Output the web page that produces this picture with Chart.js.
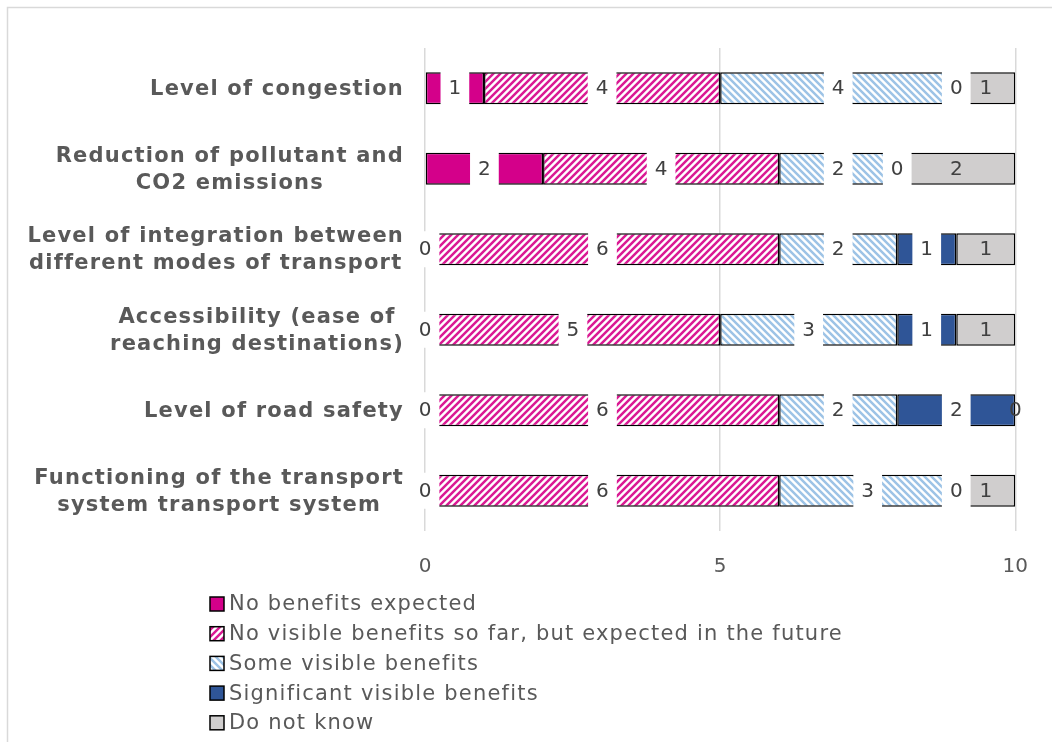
<!DOCTYPE html>
<html>
<head>
<meta charset="utf-8">
<script src="https://cdn.jsdelivr.net/npm/chart.js@4"></script>
<style>
  html, body { margin: 0; padding: 0; background: #fff; }
  #wrap { position: relative; width: 1052px; height: 742px; }
</style>
</head>
<body>
<div id="wrap"><canvas id="c" width="1052" height="742"></canvas></div>
<script>
const categories = [
  ["Level of congestion"],
  ["Reduction of pollutant and", "CO2 emissions"],
  ["Level of integration between", "different modes of transport"],
  ["Accessibility (ease of", "reaching destinations)"],
  ["Level of road safety"],
  ["Functioning of the transport", "system transport system"]
];
const seriesNames = [
  "No benefits expected",
  "No visible benefits so far, but expected in the future",
  "Some visible benefits",
  "Significant visible benefits",
  "Do not know"
];
const noBenefitsExpected = [1, 2, 0, 0, 0, 0];
const noVisibleYetExpected = [4, 4, 6, 5, 6, 6];
const someVisibleBenefits = [4, 2, 2, 3, 2, 3];
const significantBenefits = [0, 0, 1, 1, 2, 0];
const doNotKnow = [1, 2, 1, 1, 0, 1];
const xTickValues = [0, 5, 10];

const MAGENTA = '#D4008A';
const HATCHPINK = '#DA1A94';
const LIGHTBLUE = '#9DC3E6';
const DARKBLUE = '#2F5597';
const GREY = '#D0CECE';

function hatch(color, dir) {
  const s = 7;
  const cv = document.createElement('canvas');
  cv.width = s; cv.height = s;
  const g = cv.getContext('2d');
  g.fillStyle = '#fff';
  g.fillRect(0, 0, s, s);
  g.strokeStyle = color;
  g.lineWidth = 2.5;
  g.beginPath();
  if (dir === '/') {
    g.moveTo(-1, 1); g.lineTo(1, -1);
    g.moveTo(0, s); g.lineTo(s, 0);
    g.moveTo(s - 1, s + 1); g.lineTo(s + 1, s - 1);
  } else {
    g.moveTo(-1, s - 1); g.lineTo(1, s + 1);
    g.moveTo(0, 0); g.lineTo(s, s);
    g.moveTo(s - 1, -1); g.lineTo(s + 1, 1);
  }
  g.stroke();
  return g.createPattern(cv, 'repeat');
}

const fills = [MAGENTA, hatch(HATCHPINK, '/'), hatch(LIGHTBLUE, '\\'), DARKBLUE, GREY];
const values = [noBenefitsExpected, noVisibleYetExpected, someVisibleBenefits, significantBenefits, doNotKnow];
const boxedLabels = [true, true, true, true, false];

const FONT = '"DejaVu Sans", Verdana, sans-serif';

const datasets = seriesNames.map((name, i) => ({
  label: name,
  data: values[i],
  backgroundColor: fills[i],
  borderColor: '#000',
  borderWidth: 1.5,
  borderSkipped: false,
  barPercentage: 0.4,
  categoryPercentage: 1.0
}));

const framePlugin = {
  id: 'frame',
  beforeDraw(chart) {
    const c = chart.ctx;
    c.save();
    c.fillStyle = '#fff';
    c.fillRect(0, 0, chart.width, chart.height);
    c.strokeStyle = '#D9D9D9';
    c.lineWidth = 1.5;
    c.beginPath();
    c.moveTo(7.5, chart.height + 5);
    c.lineTo(7.5, 7.5);
    c.lineTo(chart.width + 5, 7.5);
    c.stroke();
    c.restore();
  }
};

const labelPlugin = {
  id: 'segLabels',
  afterDatasetsDraw(chart) {
    const c = chart.ctx;
    c.save();
    c.font = '20px ' + FONT;
    c.textAlign = 'center';
    c.textBaseline = 'middle';
    chart.data.datasets.forEach((ds, di) => {
      const meta = chart.getDatasetMeta(di);
      meta.data.forEach((el, i) => {
        const v = ds.data[i];
        const cx = (el.x + el.base) / 2;
        const cy = el.y;
        const txt = String(v);
        const w = c.measureText(txt).width;
        if (boxedLabels[di]) {
          c.fillStyle = '#fff';
          c.fillRect(cx - w / 2 - 8, cy - 18, w + 16, 36);
        }
        c.fillStyle = '#404040';
        c.fillText(txt, cx, cy + 1);
      });
    });
    c.restore();
  }
};

const catLabelPlugin = {
  id: 'catLabels',
  afterDraw(chart) {
    const c = chart.ctx;
    const yScale = chart.scales.y;
    c.save();
    c.font = 'bold 21px ' + FONT;
    c.letterSpacing = '1.2px';
    c.fillStyle = '#595959';
    c.textAlign = 'center';
    c.textBaseline = 'middle';
    const rightEdge = chart.chartArea.left - 21;
    categories.forEach((lines, i) => {
      const y = yScale.getPixelForValue(i);
      const maxW = Math.max(...lines.map(l => c.measureText(l).width));
      const cx = rightEdge - maxW / 2;
      lines.forEach((l, k) => {
        c.fillText(l, cx, y + 1 + (k - (lines.length - 1) / 2) * 27);
      });
    });
    c.restore();
  }
};

const legendPlugin = {
  id: 'vLegend',
  afterDraw(chart) {
    const c = chart.ctx;
    c.save();
    c.font = '21px ' + FONT;
    c.letterSpacing = '1.2px';
    c.textBaseline = 'middle';
    c.textAlign = 'left';
    const x0 = 210, y0 = 604, step = 29.7;
    chart.data.datasets.forEach((ds, i) => {
      const y = y0 + i * step;
      c.fillStyle = ds.backgroundColor;
      c.fillRect(x0, y - 7, 14, 14);
      c.strokeStyle = '#000';
      c.lineWidth = 1.5;
      c.strokeRect(x0, y - 7, 14, 14);
      c.fillStyle = '#595959';
      c.fillText(ds.label, x0 + 19, y + 1);
    });
    c.restore();
  }
};

new Chart(document.getElementById('c'), {
  type: 'bar',
  data: { labels: categories, datasets },
  options: {
    indexAxis: 'y',
    responsive: false,
    animation: false,
    layout: { padding: { left: 0, right: 36, top: 48, bottom: 161 } },
    plugins: {
      legend: { display: false },
      tooltip: { enabled: false },
      title: { display: false }
    },
    scales: {
      x: {
        stacked: true,
        min: 0,
        max: 10,
        afterBuildTicks(scale) { scale.ticks = xTickValues.map(v => ({ value: v })); },
        afterFit(scale) { scale.height = 50; },
        ticks: {
          padding: 24,
          color: '#595959',
          font: { family: FONT, size: 20 }
        },
        grid: { color: '#D9D9D9', lineWidth: 1.5, drawTicks: false },
        border: { display: false }
      },
      y: {
        stacked: true,
        afterFit(scale) { scale.width = 425; },
        ticks: { display: false },
        grid: { display: false },
        border: { display: false }
      }
    }
  },
  plugins: [framePlugin, labelPlugin, catLabelPlugin, legendPlugin]
});
</script>
</body>
</html>
